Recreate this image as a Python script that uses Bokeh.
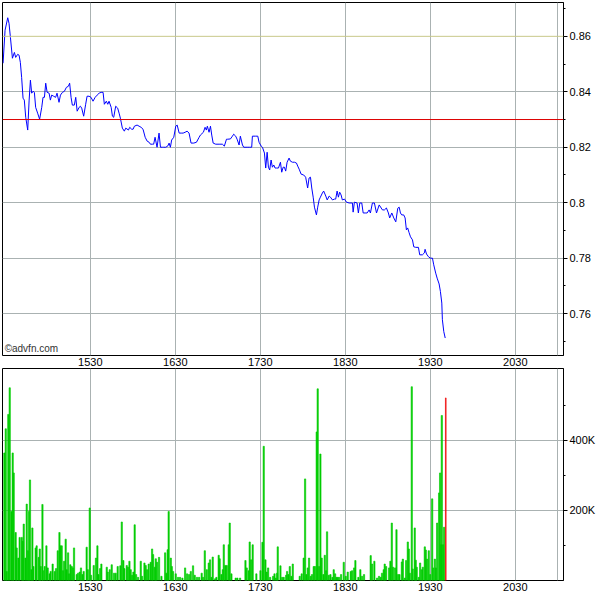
from bokeh.plotting import figure
from bokeh.layouts import column
from bokeh.models import FixedTicker, Span, Label, NumeralTickFormatter, Range1d, ColumnDataSource
from bokeh.embed import file_html
from bokeh.resources import INLINE

# ---- data (time = minutes since midnight) ----
price_time = [
    868.4, 869.8, 871.7, 872.6, 873.6, 875.0, 876.4, 877.3, 878.7, 879.7,
    880.6, 881.5, 882.5, 883.4, 884.4, 885.8, 886.8, 887.7, 888.6, 889.6,
    890.5, 891.4, 892.8, 894.2, 895.7, 896.6, 897.6, 898.5, 899.5, 900.9,
    901.8, 902.7, 904.1, 905.5, 906.5, 907.9, 908.9, 910.3, 911.7, 913.1,
    914.5, 915.4, 916.4, 917.3, 918.7, 919.7, 920.7, 922.1, 923.0, 923.9,
    925.3, 926.7, 927.7, 929.1, 930.5, 931.9, 933.4, 934.8, 936.2, 937.6,
    939.0, 939.9, 941.3, 942.3, 943.2, 944.7, 945.6, 946.5, 947.9, 949.3,
    950.3, 951.2, 952.6, 954.0, 955.0, 956.9, 957.8, 959.2, 960.2, 961.1,
    963.0, 964.4, 965.8, 967.2, 968.7, 970.1, 971.5, 972.4, 973.8, 974.7,
    975.7, 977.1, 978.5, 979.5, 980.9, 981.8, 983.2, 984.6, 985.6, 986.5,
    987.4, 988.9, 990.3, 991.3, 992.7, 994.1, 995.5, 996.9, 998.3, 999.7,
    1001.1, 1003.0, 1004.9, 1006.8, 1007.7, 1009.8, 1011.0, 1011.9, 1012.6, 1013.8,
    1014.8, 1015.7, 1016.7, 1018.5, 1020.9, 1023.2, 1024.6, 1026.1, 1027.0, 1028.9,
    1030.3, 1031.2, 1032.6, 1033.6, 1035.0, 1035.9, 1037.4, 1038.3, 1040.7, 1042.5,
    1043.9, 1044.4, 1046.7, 1048.2, 1049.1, 1050.6, 1051.5, 1052.9, 1053.8, 1054.8,
    1055.7, 1056.6, 1057.6, 1058.5, 1059.5, 1060.4, 1061.4, 1062.8, 1064.2, 1065.1,
    1066.1, 1067.0, 1067.9, 1068.9, 1070.3, 1071.2, 1072.7, 1074.1, 1075.5, 1076.4,
    1077.4, 1078.8, 1080.6, 1082.0, 1083.4, 1084.4, 1085.4, 1086.3, 1087.3, 1088.2,
    1089.6, 1090.5, 1091.5, 1092.4, 1093.8, 1094.7, 1096.2, 1097.2, 1098.6, 1099.5,
    1100.9, 1102.3, 1103.2, 1104.2, 1105.1, 1106.0, 1107.0, 1107.9, 1109.4, 1110.8,
    1112.7, 1115.0, 1115.5, 1116.4, 1118.3, 1119.2, 1120.2, 1121.6, 1122.6, 1124.0,
    1125.4, 1126.8, 1127.7, 1129.1, 1130.5, 1132.0, 1133.9, 1136.2, 1137.6, 1139.0,
    1140.4, 1141.3, 1142.8, 1144.2, 1145.6, 1147.0, 1148.0, 1148.9, 1149.8, 1151.2,
    1152.2, 1153.1, 1154.0, 1155.0, 1156.0, 1157.4, 1158.3, 1159.7, 1161.6, 1162.5,
    1164.4, 1165.8, 1166.3, 1167.3, 1168.7, 1170.1, 1171.5, 1172.4, 1173.8, 1174.8,
    1176.2, 1177.1, 1178.1, 1178.5, 1179.5, 1180.5,
]
price = [
    0.8503, 0.8622, 0.8667, 0.8647, 0.8596, 0.8521, 0.8542, 0.8524, 0.8535, 0.8532,
    0.8506, 0.8452, 0.8377, 0.8370, 0.8308, 0.8262, 0.8370, 0.8442, 0.8395, 0.8402,
    0.8398, 0.8344, 0.8323, 0.8301, 0.8344, 0.8380, 0.8380, 0.8431, 0.8398, 0.8395,
    0.8370, 0.8388, 0.8384, 0.8380, 0.8395, 0.8362, 0.8388, 0.8398, 0.8402, 0.8416,
    0.8420, 0.8431, 0.8380, 0.8352, 0.8352, 0.8380, 0.8330, 0.8344, 0.8348, 0.8341,
    0.8312, 0.8355, 0.8384, 0.8384, 0.8380, 0.8366, 0.8380, 0.8388, 0.8395, 0.8398,
    0.8398, 0.8355, 0.8366, 0.8355, 0.8366, 0.8344, 0.8312, 0.8308, 0.8348, 0.8341,
    0.8323, 0.8305, 0.8269, 0.8258, 0.8269, 0.8262, 0.8272, 0.8265, 0.8265, 0.8276,
    0.8280, 0.8276, 0.8272, 0.8265, 0.8236, 0.8222, 0.8218, 0.8211, 0.8211, 0.8211,
    0.8236, 0.8200, 0.8251, 0.8200, 0.8200, 0.8200, 0.8200, 0.8204, 0.8215, 0.8200,
    0.8226, 0.8236, 0.8276, 0.8280, 0.8251, 0.8251, 0.8251, 0.8254, 0.8258, 0.8251,
    0.8215, 0.8215, 0.8218, 0.8236, 0.8244, 0.8254, 0.8272, 0.8262, 0.8276, 0.8254,
    0.8276, 0.8244, 0.8215, 0.8211, 0.8211, 0.8211, 0.8204, 0.8229, 0.8229, 0.8230,
    0.8240, 0.8247, 0.8240, 0.8229, 0.8208, 0.8240, 0.8208, 0.8200, 0.8200, 0.8200,
    0.8200, 0.8240, 0.8240, 0.8240, 0.8218, 0.8204, 0.8200, 0.8179, 0.8125, 0.8182,
    0.8128, 0.8118, 0.8154, 0.8128, 0.8136, 0.8125, 0.8125, 0.8125, 0.8146, 0.8110,
    0.8128, 0.8128, 0.8114, 0.8146, 0.8161, 0.8150, 0.8146, 0.8146, 0.8143, 0.8132,
    0.8121, 0.8103, 0.8100, 0.8092, 0.8053, 0.8089, 0.8092, 0.8053, 0.8020, 0.7984,
    0.7956, 0.7984, 0.8010, 0.8020, 0.8035, 0.8042, 0.8024, 0.8010, 0.8024, 0.8020,
    0.8010, 0.8013, 0.8013, 0.8042, 0.8020, 0.8038, 0.8028, 0.8010, 0.8013, 0.8002,
    0.7999, 0.7999, 0.7966, 0.8002, 0.7999, 0.7963, 0.7999, 0.7999, 0.7963, 0.7963,
    0.7963, 0.7974, 0.7963, 0.7999, 0.7999, 0.7963, 0.7992, 0.7974, 0.7974, 0.7981,
    0.7963, 0.7945, 0.7963, 0.7945, 0.7931, 0.7980, 0.7984, 0.7963, 0.7956, 0.7956,
    0.7945, 0.7902, 0.7909, 0.7892, 0.7877, 0.7866, 0.7841, 0.7839, 0.7839, 0.7812,
    0.7812, 0.7819, 0.7832, 0.7815, 0.7805, 0.7800, 0.7800, 0.7776, 0.7746, 0.7728,
    0.7707, 0.7680, 0.7638, 0.7578, 0.7535, 0.7512,
]

vol_time = [
    869.3, 870.3, 871.0, 872.1, 873.1, 874.3, 875.2, 875.9, 877.3, 878.0,
    879.2, 880.1, 881.6, 882.3, 883.0, 884.2, 885.1, 886.0, 886.7, 887.4,
    888.4, 889.1, 889.8, 891.4, 892.1, 893.6, 894.3, 895.0, 896.2, 896.6,
    897.8, 899.0, 899.9, 901.3, 902.0, 903.4, 904.9, 905.8, 907.0, 908.2,
    908.9, 909.8, 910.7, 911.5, 912.6, 913.3, 914.3, 915.0, 915.9, 916.9,
    917.8, 918.5, 920.4, 921.3, 922.5, 923.4, 924.4, 925.3, 927.4, 928.2,
    929.6, 930.5, 932.4, 934.0, 935.0, 935.7, 936.9, 937.8, 941.6, 942.3,
    943.7, 945.1, 946.7, 947.9, 949.3, 951.2, 952.2, 953.3, 954.0, 955.7,
    956.6, 957.6, 958.5, 959.5, 960.4, 961.3, 962.3, 963.7, 965.6, 966.5,
    968.2, 969.1, 970.1, 971.2, 972.6, 973.6, 974.3, 975.5, 976.2, 977.1,
    978.5, 980.2, 982.8, 983.7, 984.6, 985.3, 986.8, 987.5, 988.4, 990.3,
    991.9, 993.3, 995.0, 996.9, 998.3, 999.7, 1000.9, 1002.5, 1003.7, 1005.3,
    1006.8, 1008.6, 1009.6, 1010.8, 1012.2, 1013.6, 1014.5, 1015.5, 1016.4, 1018.1,
    1019.0, 1020.6, 1021.3, 1022.5, 1023.5, 1024.2, 1025.3, 1026.3, 1027.7, 1028.4,
    1029.6, 1032.6, 1033.8, 1035.7, 1039.5, 1040.4, 1041.8, 1042.5, 1043.5, 1044.6,
    1047.2, 1050.1, 1051.5, 1052.4, 1053.6, 1054.5, 1055.5, 1056.9, 1059.0, 1060.0,
    1060.9, 1061.8, 1062.3, 1064.2, 1065.4, 1066.5, 1068.2, 1068.9, 1069.8, 1070.8,
    1071.9, 1072.9, 1077.8, 1079.2, 1080.6, 1081.6, 1082.5, 1083.5, 1084.4, 1085.6,
    1086.5, 1087.7, 1088.6, 1089.8, 1090.5, 1091.5, 1092.4, 1093.3, 1094.5, 1095.5,
    1096.4, 1097.1, 1098.3, 1099.5, 1100.9, 1101.8, 1102.8, 1103.7, 1104.6, 1105.6,
    1107.0, 1108.9, 1110.3, 1111.7, 1113.8, 1114.8, 1116.2, 1117.1, 1119.2, 1120.6,
    1121.8, 1123.2, 1127.9, 1128.9, 1130.5, 1132.4, 1133.8, 1135.0, 1135.9, 1137.1,
    1137.8, 1138.8, 1140.9, 1141.8, 1142.8, 1143.7, 1145.1, 1146.1, 1147.2, 1148.2,
    1149.9, 1150.6, 1152.0, 1152.9, 1154.1, 1154.8, 1155.5, 1156.9, 1157.6, 1159.0,
    1159.7, 1160.4, 1161.9, 1162.8, 1164.0, 1164.7, 1166.1, 1166.8, 1167.7, 1168.9,
    1169.9, 1171.3, 1172.0, 1173.2, 1173.9, 1174.8, 1176.2, 1176.9, 1177.6, 1178.1,
    1179.0, 1179.7, 1180.9,
]
volume_k = [
    364, 433, 26, 474, 550, 197, 364, 307, 137, 93,
    64, 123, 123, 112, 161, 64, 218, 85, 197, 287,
    31, 150, 40, 93, 99, 66, 90, 40, 217, 28,
    40, 99, 36, 19, 26, 47, 26, 34, 85, 137,
    99, 99, 28, 55, 118, 31, 79, 19, 45, 40,
    36, 93, 17, 21, 24, 36, 17, 26, 95, 31,
    207, 15, 43, 64, 99, 17, 34, 47, 38, 24,
    31, 45, 21, 21, 40, 42, 167, 57, 34, 43,
    38, 55, 31, 15, 24, 159, 17, 9, 55, 12,
    50, 43, 31, 47, 52, 90, 74, 38, 62, 52,
    66, 12, 79, 21, 88, 197, 64, 40, 26, 19,
    9, 9, 7, 36, 19, 17, 26, 42, 15, 9,
    9, 21, 9, 85, 31, 50, 59, 9, 67, 5,
    9, 72, 62, 17, 31, 102, 43, 43, 102, 164,
    19, 7, 7, 7, 57, 36, 28, 110, 59, 102,
    19, 28, 109, 383, 59, 24, 36, 9, 12, 19,
    7, 21, 96, 42, 9, 9, 15, 26, 17, 40,
    12, 47, 12, 19, 64, 290, 17, 36, 64, 12,
    17, 40, 40, 424, 547, 40, 361, 64, 17, 72,
    28, 139, 15, 17, 9, 31, 19, 9, 9, 9,
    17, 52, 12, 24, 26, 28, 36, 57, 9, 31,
    12, 17, 71, 47, 55, 7, 12, 9, 21, 31,
    47, 40, 36, 55, 164, 38, 36, 145, 17, 17,
    53, 61, 7, 57, 110, 90, 21, 553, 33, 150,
    58, 38, 9, 50, 31, 38, 96, 87, 61, 85,
    17, 233, 36, 61, 36, 164, 250, 307, 102, 471,
    102, 152, 521,
]
assert len(price_time) == len(price)
assert len(vol_time) == len(volume_k)
volume = [v * 1000 for v in volume_k]

time_ticks = [930, 990, 1050, 1110, 1170, 1230]
time_labels = ["1530", "1630", "1730", "1830", "1930", "2030"]
market_close = 1260
price_ticks = [0.76, 0.78, 0.80, 0.82, 0.84, 0.86]
price_minor_ticks = [0.75, 0.76, 0.77, 0.78, 0.79, 0.80, 0.81, 0.82, 0.83, 0.84, 0.85, 0.86, 0.87]
prev_close = 0.83
volume_ticks = [200000, 400000]
volume_minor_ticks = [100000, 200000, 300000, 400000, 500000]
volume_labels = {200000: "200K", 400000: "400K"}

FONT = "Liberation Sans"
GRID = "#aab2b2"
x_lo, x_hi = 868.0, 1264.0


def style(p):
    p.outline_line_color = "black"
    p.outline_line_width = 1
    p.background_fill_color = "white"
    p.border_fill_color = "white"
    for ax in p.xaxis:
        ax.ticker = FixedTicker(ticks=time_ticks)
        ax.major_label_overrides = {t: l for t, l in zip(time_ticks, time_labels)}
        ax.major_tick_out = 0
        ax.major_tick_in = 0
        ax.minor_tick_out = 0
        ax.axis_line_color = None
        ax.major_label_standoff = 2
        ax.major_label_text_font = FONT
        ax.major_label_text_font_size = "11px"
        ax.major_label_text_color = "black"
    for ax in p.yaxis:
        ax.axis_line_color = "black"
        ax.major_tick_out = 4
        ax.major_tick_in = 0
        ax.minor_tick_out = 2
        ax.minor_tick_in = 0
        ax.major_tick_line_color = "black"
        ax.minor_tick_line_color = "black"
        ax.major_label_standoff = 2
        ax.major_label_text_font = FONT
        ax.major_label_text_font_size = "11px"
        ax.major_label_text_color = "black"
    p.xgrid.ticker = FixedTicker(ticks=time_ticks + [market_close])
    p.xgrid.grid_line_color = GRID
    p.ygrid.grid_line_color = GRID


# ---- price panel ----
p1 = figure(frame_width=561, frame_height=353,
            x_range=Range1d(x_lo, x_hi), y_range=Range1d(0.7449, 0.8722),
            y_axis_location="right", output_backend="svg", toolbar_location=None,
            min_border_left=2, min_border_top=2, min_border_right=0, min_border_bottom=0)
style(p1)
p1.yaxis.ticker = FixedTicker(ticks=price_ticks, minor_ticks=price_minor_ticks)
p1.yaxis.formatter = NumeralTickFormatter(format="0.[00]")
p1.ygrid.ticker = FixedTicker(ticks=price_ticks[:-1])
p1.add_layout(Span(location=price_ticks[-1], dimension="width", line_color="#c8c88a", line_width=1))
p1.add_layout(Span(location=prev_close, dimension="width", line_color="#dd0000", line_width=1))
src = ColumnDataSource(dict(t=price_time, p=price))
p1.line("t", "p", source=src, line_color="#0000ff", line_width=1)
p1.add_layout(Label(x=x_lo + 1.5, y=0.7449, text="©advfn.com", text_font=FONT,
                    text_font_size="10px", text_color="#333333", text_baseline="bottom",
                    y_offset=2))

# ---- volume panel ----
p2 = figure(frame_width=561, frame_height=212,
            x_range=Range1d(x_lo, x_hi), y_range=Range1d(0, 605000),
            y_axis_location="right", output_backend="svg", toolbar_location=None,
            min_border_left=2, min_border_top=0, min_border_right=0, min_border_bottom=0)
style(p2)
p2.yaxis.ticker = FixedTicker(ticks=volume_ticks, minor_ticks=volume_minor_ticks)
p2.yaxis.major_label_overrides = volume_labels
p2.ygrid.ticker = FixedTicker(ticks=volume_ticks)
bar_colors = ["#00cc00"] * (len(volume) - 1) + ["#ee0000"]
bar_widths = [0.9] * (len(volume) - 1) + [0.5]
vsrc = ColumnDataSource(dict(t=vol_time, v=volume, c=bar_colors, w=bar_widths))
p2.vbar(x="t", top="v", width="w", source=vsrc, fill_color="c", line_color="c", line_width=0.6)

layout = column(p1, p2, spacing=0)
open("out.html", "w").write(file_html(layout, INLINE))
